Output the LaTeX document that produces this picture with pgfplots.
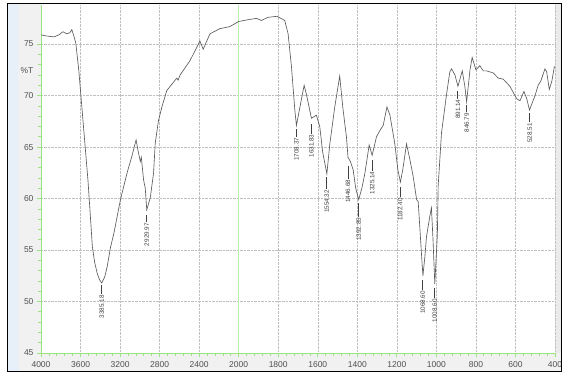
\documentclass[border=0pt]{standalone}
\usepackage{pgfplots}
\pgfplotsset{compat=1.18}
\usepackage{pgfplotstable}
\usepackage{fontspec}
\setmainfont{Liberation Sans}
\definecolor{curvegray}{HTML}{5A5A5A}
\definecolor{labelgray}{HTML}{505050}
\definecolor{axgreen}{HTML}{9BE37F}
\definecolor{gridgreen}{HTML}{B8F0A8}
\definecolor{panelgray}{HTML}{F1F1F1}
\definecolor{panelblue}{HTML}{E7EFF9}
\definecolor{rightgray}{HTML}{EBEBEB}

\pgfplotstableread{
wn T
4000 75.9
3950 75.8
3869 75.7
3819 75.9
3779 76.2
3739 76.0
3709 76.1
3688 76.4
3668 75.8
3648 75.1
3618 72.5
3598 70.2
3558 65.6
3525 61.8
3502 58.5
3480 55.3
3457 53.8
3430 52.7
3407 52.1
3385 51.8
3355 52.4
3330 53.4
3296 55.3
3263 56.6
3196 59.9
3129 62.5
3078 64.2
3038 65.7
3015 64.5
2995 63.6
2985 64.0
2962 61.8
2945 61.0
2930 58.9
2894 60.1
2861 62.5
2844 65.4
2811 67.6
2777 68.9
2727 70.5
2693 70.9
2626 71.7
2613 71.5
2593 72.0
2492 73.4
2392 75.3
2359 74.5
2291 76.0
2191 76.5
2090 76.7
2000 77.2
1944 77.4
1910 77.5
1885 77.3
1852 77.6
1806 77.7
1767 77.3
1750 76.0
1733 72.8
1716 68.6
1708 67.1
1689 69.0
1669 71.0
1656 70.0
1632 67.8
1607 68.1
1590 67.0
1575 64.5
1554 62.4
1539 65.3
1514 68.9
1489 71.9
1473 68.8
1455 66.0
1447 64.0
1435 63.6
1421 62.8
1408 61.0
1393 59.9
1377 61.0
1362 62.4
1340 65.2
1325 64.2
1303 66.0
1286 66.6
1269 67.1
1250 68.9
1235 68.1
1210 65.3
1195 62.8
1182 61.6
1170 62.8
1151 65.3
1134 63.8
1117 62.1
1100 59.9
1092 59.7
1084 57.3
1074 54.2
1068 52.5
1058 54.4
1050 56.3
1033 58.3
1025 59.1
1017 56.0
1008 51.7
995 56.5
991 61.2
974 66.4
948 70.2
932 72.3
923 72.6
906 72.0
891 70.9
869 72.4
856 70.9
847 69.4
830 72.5
819 73.7
800 72.5
780 72.9
763 72.4
746 72.4
712 72.2
687 71.7
662 71.6
628 70.9
594 69.7
577 69.5
557 70.4
543 69.7
529 68.6
501 70.0
485 71.0
472 71.4
451 72.6
442 72.3
429 70.6
416 71.4
403 72.8
400 72.8
}\spectrum

\begin{document}
\begin{tikzpicture}[
  lbl/.style={rotate=90, anchor=east, inner sep=0pt,
    font=\fontsize{6.3}{6.3}\selectfont, text=black!75}]
\useasboundingbox (-41pt,-21pt) rectangle (521pt,353pt);
% panels
\fill[panelblue] (-33pt,-18.5pt) rectangle (-22.7pt,349pt);
\fill[panelgray] (-22.7pt,-18.5pt) rectangle (0pt,349pt);
\fill[panelgray] (0pt,-18.5pt) rectangle (520.5pt,0pt);
\fill[rightgray] (514pt,0pt) rectangle (520.5pt,349pt);
\begin{axis}[
  at={(0pt,0pt)}, anchor=south west,
  scale only axis, width=514pt, height=348pt,
  xmin=400, xmax=3000, x dir=reverse,
  ymin=45, ymax=78.8,
  xtick={400,600,800,1000,1200,1400,1600,1800,2000,2200,2400,2600,2800,3000},
  xticklabels={400,600,800,1000,1200,1400,1600,1800,2000,2400,2800,3200,3600,4000},
  ytick={45,50,55,60,65,70,75},
  minor x tick num=4, minor y tick num=4,
  grid=major,
  major grid style={densely dotted, gray!50, line width=0.5pt},
  axis x line*=bottom, axis y line*=left,
  axis line style={axgreen, line width=0.8pt},
  tick style={axgreen, line width=0.7pt},
  tick align=outside,
  major tick length=4pt, minor tick length=3pt,
  /pgf/number format/assume math mode=true,
  ticklabel style={font=\fontsize{8.5}{10}\selectfont, text=labelgray},
  xticklabel style={yshift=-1pt},
  clip=false,
]
\draw[gridgreen, line width=1pt] (axis cs:2000,45) -- (axis cs:2000,78.8);
\addplot[color=curvegray, line width=0.65pt, mark=none]
  table[x expr={ifthenelse(\thisrow{wn}>2000, 2000+0.5*(\thisrow{wn}-2000), \thisrow{wn})}, y=T] {\spectrum};
% peak labels
\node[lbl] at (axis cs:2692.6,51.6) {3385.18\hspace{1pt}\rule[0.36em]{9pt}{0.45pt}};
\node[lbl] at (axis cs:2465.0,58.4) {2929.97\hspace{1pt}\rule[0.36em]{7pt}{0.45pt}};
\node[lbl] at (axis cs:1708.37,66.8) {1708.37\hspace{1pt}\rule[0.36em]{8pt}{0.45pt}};
\node[lbl] at (axis cs:1631.83,67.3) {1631.83\hspace{1pt}\rule[0.36em]{10pt}{0.45pt}};
\node[lbl] at (axis cs:1554.32,62.1) {1554.32\hspace{1pt}\rule[0.36em]{12pt}{0.45pt}};
\node[lbl] at (axis cs:1446.68,63.2) {1446.68\hspace{1pt}\rule[0.36em]{13pt}{0.45pt}};
\node[lbl] at (axis cs:1392.85,59.6) {1392.85\hspace{1pt}\rule[0.36em]{14pt}{0.45pt}};
\node[lbl] at (axis cs:1325.14,63.8) {1325.14\hspace{1pt}\rule[0.36em]{11pt}{0.45pt}};
\node[lbl] at (axis cs:1182.40,61.1) {1182.40\hspace{1pt}\rule[0.36em]{10pt}{0.45pt}};
\node[lbl] at (axis cs:1068.60,52.1) {1068.60\hspace{1pt}\rule[0.36em]{10pt}{0.45pt}};
\node[lbl] at (axis cs:1008.60,51.3) {1008.60\hspace{1pt}\rule[0.36em]{10pt}{0.45pt}};
\node[lbl] at (axis cs:891.14,70.5) {891.14\hspace{1pt}\rule[0.36em]{8pt}{0.45pt}};
\node[lbl] at (axis cs:846.79,69.1) {846.79\hspace{1pt}\rule[0.36em]{7pt}{0.45pt}};
\node[lbl] at (axis cs:528.51,68.3) {528.51\hspace{1pt}\rule[0.36em]{9pt}{0.45pt}};
\end{axis}
\node[font=\fontsize{8.5}{10}\selectfont, text=labelgray] at (-14pt,282pt) {\%T};
\draw[black, line width=1.3pt] (-33.5pt,-18.5pt) rectangle (520.5pt,349.3pt);
\end{tikzpicture}
\end{document}
